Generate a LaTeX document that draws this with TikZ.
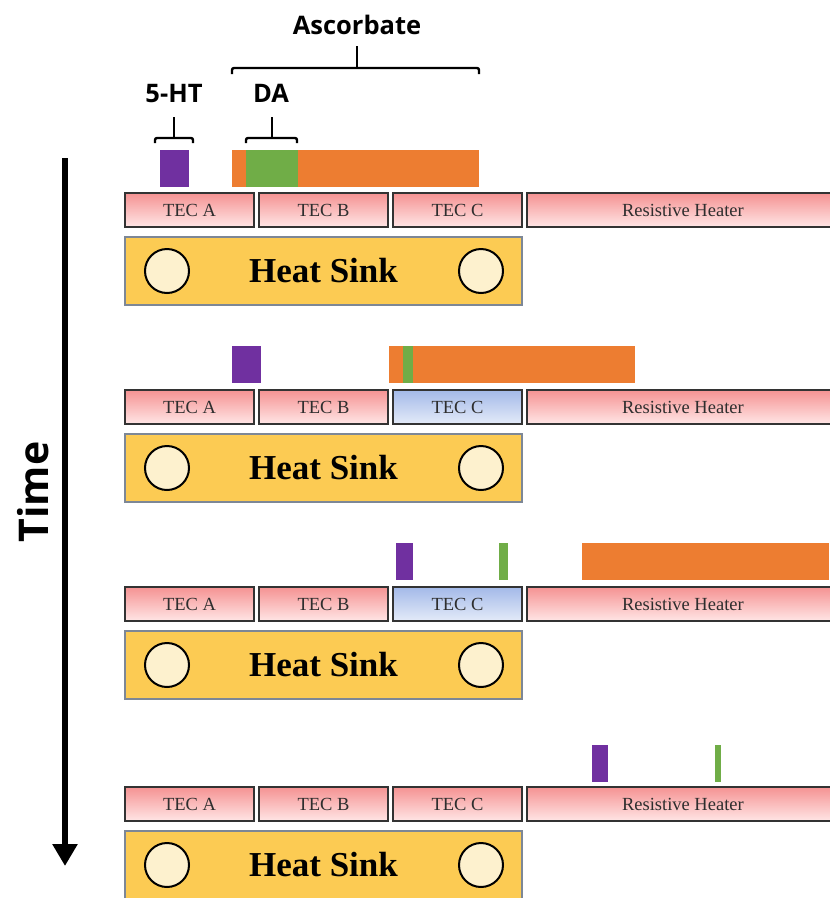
\documentclass[tikz,border=0pt]{standalone}
\usepackage{fontspec}
\setmainfont{Liberation Serif}
\newfontfamily\lblfont{Open Sans}
\usetikzlibrary{arrows.meta}
\definecolor{tecTop}{HTML}{F59292}
\definecolor{tecBot}{HTML}{FFE6E6}
\definecolor{coolTop}{HTML}{A3B9E8}
\definecolor{coolBot}{HTML}{E4EBF9}
\definecolor{sinkFill}{HTML}{FCCB53}
\definecolor{sinkEdge}{HTML}{7D8796}
\definecolor{fanFill}{HTML}{FDF1CE}
\definecolor{ascOrange}{HTML}{ED7D31}
\definecolor{daGreen}{HTML}{70AD47}
\definecolor{htPurple}{HTML}{7030A0}
\begin{document}
\begin{tikzpicture}[x=1pt,y=-1pt,
 tec/.style={draw=black!80, line width=1.8pt, top color=tecTop, bottom color=tecBot, minimum height=34.2pt, minimum width=129.2pt, inner sep=0pt, font=\fontsize{18.5}{18.5}\selectfont, text=black!82},
 cool/.style={tec, top color=coolTop, bottom color=coolBot},
 sink/.style={draw=sinkEdge, line width=1.6pt, fill=sinkFill, minimum width=397.4pt, minimum height=68.4pt, inner sep=0pt, font=\bfseries\fontsize{35}{35}\selectfont},
 fan/.style={circle, draw=black, line width=2pt, fill=fanFill, minimum size=44pt, inner sep=0pt},
 lbl/.style={font=\lblfont\bfseries\fontsize{25.5}{25.5}\selectfont, anchor=base, inner sep=0pt},
 brace/.style={line width=2.4pt, rounded corners=2pt},
 timearrow/.style={line width=6pt, -{Triangle[width=24pt,length=22pt]}}]
\useasboundingbox (0,0) rectangle (830,898);
\clip (0,0) rectangle (830,898);
% rows of TECs, heater and heat sink
\foreach \T/\cC in {192/tec, 389/cool, 586/cool, 786/tec}{
  \node[tec] (A\T) at (189.5,\T+18) {TEC A};
  \node[tec] (B\T) at (323.5,\T+18) {TEC B};
  \node[\cC] (C\T) at (457.5,\T+18) {TEC C};
  \node[tec, minimum width=312pt] (H\T) at (682.9,\T+18) {Resistive Heater};
  \node[sink] (S\T) at (323.5,\T+79) {Heat Sink};
  \node[fan] (FL\T) at (167,\T+79) {};
  \node[fan] (FR\T) at (481,\T+79) {};
}
% row 1 bands
\fill[ascOrange] (232,150) rectangle (479,187);
\fill[daGreen] (246,150) rectangle (298,187);
\fill[htPurple] (160,150) rectangle (189,187);
% row 2 bands
\fill[htPurple] (232,346) rectangle (261,383);
\fill[ascOrange] (389,346) rectangle (635,383);
\fill[daGreen] (403,346) rectangle (413,383);
% row 3 bands
\fill[htPurple] (396,543) rectangle (413,580);
\fill[daGreen] (499,543) rectangle (508,580);
\fill[ascOrange] (582,543) rectangle (829,580);
% row 4 bands
\fill[htPurple] (592,745) rectangle (608,782);
\fill[daGreen] (715,745) rectangle (721,782);
% labels and braces
\node[lbl] (asc) at (357,34) {Ascorbate};
\node[lbl] (ht) at (174,102) {5-HT};
\node[lbl] (da) at (271,102) {DA};
\draw[brace] (232,74) -- (232,68) -- (479,68) -- (479,74);
\draw[brace] (357,68) -- (357,46);
\draw[brace] (155,143) -- (155,138) -- (193,138) -- (193,143);
\draw[brace] (174,138) -- (174,117);
\draw[brace] (246,143) -- (246,138) -- (297,138) -- (297,143);
\draw[brace] (272,138) -- (272,117);
% time axis
\node[rotate=90, font=\lblfont\bfseries\fontsize{41}{41}\selectfont] (time) at (33,492) {Time};
\coordinate (tTop) at (65,158);
\coordinate (tEnd) at (65,866);
\draw[timearrow] (tTop) -- (tEnd);
\end{tikzpicture}
\end{document}
